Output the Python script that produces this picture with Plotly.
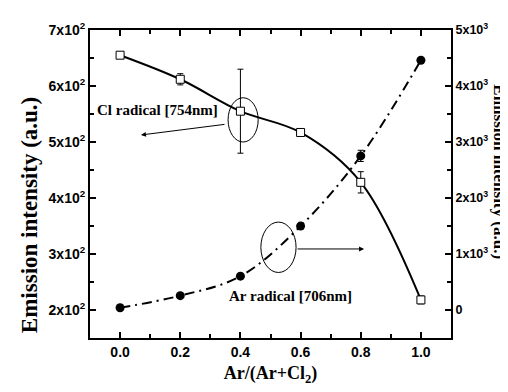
import plotly.graph_objects as go

# ---- data ----
ratio = [0.0, 0.2, 0.4, 0.6, 0.8, 1.0]
cl_intensity = [655, 612, 555, 517, 428, 218]
cl_error = [5, 10, 75, 5, 19, 7]
ar_intensity = [40, 256, 604, 1498, 2752, 4460]
ar_error = [0, 0, 0, 0, 100, 0]

x_ticks = [0.0, 0.2, 0.4, 0.6, 0.8, 1.0]
x_ticktext = ["0.0", "0.2", "0.4", "0.6", "0.8", "1.0"]
left_ticks = [200, 300, 400, 500, 600, 700]
left_ticktext = ["2x10<sup>2</sup>", "3x10<sup>2</sup>", "4x10<sup>2</sup>",
                 "5x10<sup>2</sup>", "6x10<sup>2</sup>", "7x10<sup>2</sup>"]
right_ticks = [0, 1000, 2000, 3000, 4000, 5000]
right_ticktext = ["0", "1x10<sup>3</sup>", "2x10<sup>3</sup>", "3x10<sup>3</sup>",
                  "4x10<sup>3</sup>", "5x10<sup>3</sup>"]

serif = "Liberation Serif"
sans = "Liberation Sans"

fig = go.Figure()
fig.add_trace(go.Scatter(
    x=ratio, y=cl_intensity, mode="lines+markers", yaxis="y",
    line=dict(color="black", width=2, shape="spline", smoothing=1.0),
    marker=dict(symbol="square", size=8, color="white", line=dict(color="black", width=1)),
    error_y=dict(type="data", array=cl_error, color="black", thickness=1, width=3),
    showlegend=False))
fig.add_trace(go.Scatter(
    x=ratio, y=ar_intensity, mode="lines+markers", yaxis="y2",
    line=dict(color="black", width=2, shape="spline", smoothing=1.0, dash="10px,5px,2px,5px"),
    marker=dict(symbol="circle", size=9, color="black"),
    error_y=dict(type="data", array=ar_error, color="black", thickness=1, width=3),
    showlegend=False))

tickfont = dict(family=sans, size=14, color="black", weight="bold")
rtickfont = dict(family=sans, size=12.5, color="black", weight="bold")
fig.update_layout(
    width=508, height=392,
    margin=dict(l=82, r=65, t=16, b=62),
    paper_bgcolor="white", plot_bgcolor="white",
    showlegend=False,
    xaxis=dict(range=[-0.1, 1.1], tickvals=x_ticks, ticktext=x_ticktext,
               ticks="inside", ticklen=6, tickwidth=1.5, tickcolor="black",
               minor=dict(dtick=0.1, tick0=0, ticks="inside", ticklen=4, tickcolor="black"),
               showline=True, linewidth=2, linecolor="black", mirror="ticks",
               showgrid=False, zeroline=False, tickfont=tickfont,
               title=dict(text="Ar/(Ar+Cl<sub>2</sub>)", standoff=8,
                          font=dict(family=serif, size=18, color="black", weight="bold"))),
    yaxis=dict(range=[150, 700], tickvals=left_ticks, ticktext=left_ticktext,
               ticks="inside", ticklen=6, tickwidth=1.5, tickcolor="black",
               minor=dict(dtick=50, tick0=0, ticks="inside", ticklen=4, tickcolor="black"),
               showline=True, linewidth=2, linecolor="black",
               showgrid=False, zeroline=False, tickfont=tickfont),
    yaxis2=dict(range=[-500, 5000], tickvals=right_ticks, ticktext=right_ticktext,
                overlaying="y", side="right",
                ticks="inside", ticklen=6, tickwidth=1.5, tickcolor="black",
                minor=dict(dtick=500, tick0=0, ticks="inside", ticklen=4, tickcolor="black"),
                showline=True, linewidth=2, linecolor="black",
                showgrid=False, zeroline=False, tickfont=rtickfont),
)

fig.add_annotation(text="Emission intensity (a.u.)", xref="paper", yref="paper",
                   x=-0.168, y=0.40, textangle=-90, showarrow=False,
                   font=dict(family=serif, size=23, color="black", weight="bold"),
                   xanchor="center", yanchor="middle")
fig.add_annotation(text="Emission intensity (a.u.)", xref="paper", yref="paper",
                   x=1.134, y=0.54, textangle=90, showarrow=False,
                   font=dict(family=serif, size=17, color="black", weight="bold"),
                   xanchor="center", yanchor="middle", borderpad=0)

label_font = dict(family=serif, size=15, color="black", weight="bold")
fig.add_annotation(text="Cl radical [754nm]", x=0.126, y=558, xref="x", yref="y",
                   showarrow=False, font=label_font)
fig.add_annotation(text="Ar radical [706nm]", x=0.568, y=225, xref="x", yref="y",
                   showarrow=False, font=label_font)

# ellipses
fig.add_shape(type="circle", xref="x", yref="y", x0=0.359, x1=0.459, y0=500, y1=579,
              line=dict(color="black", width=1))
fig.add_shape(type="circle", xref="x", yref="y", x0=0.468, x1=0.585, y0=267, y1=357,
              line=dict(color="black", width=1))

# arrows
fig.add_annotation(x=0.0695, y=512.5, ax=0.352, ay=531.8, xref="x", yref="y",
                   axref="x", ayref="y", text="", showarrow=True,
                   arrowhead=2, arrowsize=1, arrowwidth=1, arrowcolor="black")
fig.add_annotation(x=0.811, y=309, ax=0.585, ay=309, xref="x", yref="y",
                   axref="x", ayref="y", text="", showarrow=True,
                   arrowhead=2, arrowsize=1, arrowwidth=1, arrowcolor="black")

fig.write_html("out.html")
